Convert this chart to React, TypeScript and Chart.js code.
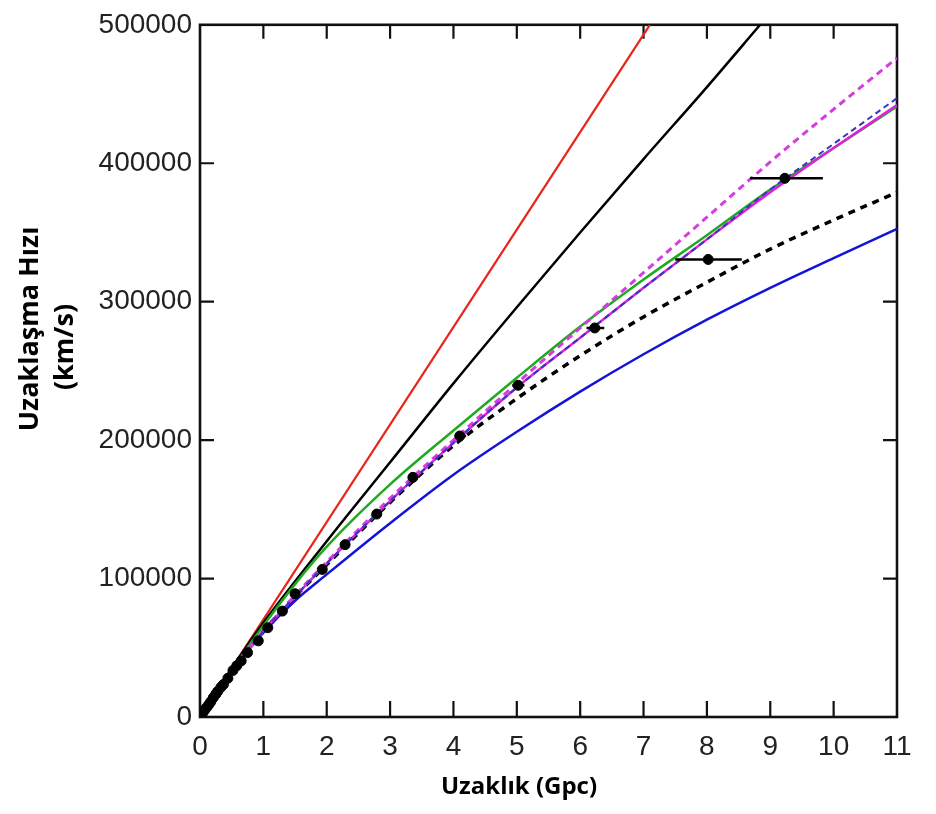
import React, { useEffect, useRef } from "react";
import { Chart, registerables } from "chart.js";

Chart.register(...registerables);

// ---- tick labels ----
const X_TICKS = [0, 1, 2, 3, 4, 5, 6, 7, 8, 9, 10, 11];
const Y_TICKS = [0, 100000, 200000, 300000, 400000, 500000];

// ---- model curves (distance in Gpc, velocity in km/s) ----
const RED_X = [0, 7.1];
const RED_Y = [0, 500000];

const BLACK_X = [0, 0.5, 1, 2, 3, 4, 5, 6, 7, 8, 8.84];
const BLACK_Y = [0, 35000, 68000, 127000, 184000, 241000, 296000, 350000, 403000, 455000, 500000];

const CURVE_X = [0, 0.5, 1, 1.5, 2, 3, 4, 5, 6, 7, 8, 9, 10, 11];
const BLUE_Y = [0, 33000, 61000, 84000, 103000, 140000, 175000, 206000, 235000, 262000, 287000, 310000, 331500, 352600];
const BLACK_DASH_Y = [0, 33000, 62000, 87000, 110000, 155000, 196000, 230000, 261000, 289000, 314000, 338000, 359000, 379000];
const GREEN_Y = [0, 34000, 66000, 96000, 123000, 168000, 207000, 245000, 282000, 316000, 348000, 381000, 411000, 441000];
const MAGENTA_Y = [0, 33000, 62000, 87000, 111000, 156000, 198000, 238000, 274000, 310000, 345000, 379000, 411000, 442000];
const BLUE_DASH_Y = [0, 33000, 62000, 87000, 111000, 156000, 198000, 238000, 274000, 310000, 345000, 381000, 414000, 447000];
const MAGENTA_DASH_Y = [0, 33000, 62000, 88000, 112000, 158000, 200000, 241000, 281000, 321000, 361000, 401000, 439000, 476000];

// ---- observed data points ----
const OBS_X = [0.02, 0.04, 0.06, 0.08, 0.11, 0.14, 0.17, 0.21, 0.25, 0.28, 0.33, 0.37, 0.44, 0.52, 0.58, 0.65, 0.75, 0.92, 1.07, 1.3, 1.5, 1.93, 2.29, 2.79, 3.36, 4.1, 5.02, 6.23, 8.02, 9.23];
const OBS_Y = [1500, 2800, 4200, 5500, 7200, 9000, 11000, 14000, 16500, 18500, 21500, 23500, 28000, 33600, 37000, 40500, 46500, 55000, 64500, 76500, 89000, 106600, 124500, 146600, 173100, 203000, 239600, 281000, 330500, 389100];

// ---- horizontal error bars ----
const ERR_Y = [389100, 330500, 281000, 239600, 203000];
const ERR_LO = [8.68, 7.5, 6.1, 4.93, 4.02];
const ERR_HI = [9.83, 8.55, 6.38, 5.12, 4.2];

const X_TITLE = "Uzaklık (Gpc)";
const Y_TITLE = ["Uzaklaşma Hızı", "(km/s)"];

const pts = (xs: number[], ys: number[]) => xs.map((x, i) => ({ x, y: ys[i] }));

const lineDs = (label: string, xs: number[], ys: number[], color: string, width: number, dash: number[] = []) => ({
  type: "line" as const,
  label,
  data: pts(xs, ys),
  borderColor: color,
  backgroundColor: color,
  borderWidth: width,
  borderDash: dash,
  pointRadius: 0,
  showLine: true,
  fill: false,
  cubicInterpolationMode: "monotone" as const,
});

const X_TITLE_FONT = 'bold 24px "Open Sans", "Noto Sans", sans-serif';
const Y_TITLE_FONT = 'bold 27px "Open Sans", "Noto Sans", sans-serif';

const frameAndTicks = {
  id: "frameAndTicks",
  beforeDatasetsDraw(chart: any) {
    const { ctx, chartArea } = chart;
    const { left, right, top, bottom } = chartArea;
    const xs = chart.scales.x;
    const ys = chart.scales.y;
    ctx.save();
    ctx.strokeStyle = "#111";
    ctx.lineWidth = 2.6;
    ctx.strokeRect(left, top, right - left, bottom - top);
    ctx.lineWidth = 2.2;
    ctx.beginPath();
    X_TICKS.forEach((v) => {
      const px = xs.getPixelForValue(v);
      if (v === 0 || v === 11) return;
      ctx.moveTo(px, bottom);
      ctx.lineTo(px, bottom - 16);
      ctx.moveTo(px, top);
      ctx.lineTo(px, top + 14);
    });
    Y_TICKS.forEach((v) => {
      const py = ys.getPixelForValue(v);
      if (v === 0 || v === 500000) return;
      ctx.moveTo(left, py);
      ctx.lineTo(left + 14, py);
      ctx.moveTo(right, py);
      ctx.lineTo(right - 14, py);
    });
    ctx.stroke();
    ctx.restore();
  },
  afterDraw(chart: any) {
    const { ctx } = chart;
    ctx.save();
    ctx.fillStyle = "#000";
    ctx.textAlign = "center";
    ctx.textBaseline = "middle";
    ctx.font = X_TITLE_FONT;
    ctx.fillText(X_TITLE, 519, 787);
    ctx.font = Y_TITLE_FONT;
    ctx.save();
    ctx.translate(30, 329);
    ctx.rotate(-Math.PI / 2);
    ctx.fillText(Y_TITLE[0], 0, 0);
    ctx.restore();
    ctx.save();
    ctx.translate(65, 347);
    ctx.rotate(-Math.PI / 2);
    ctx.fillText(Y_TITLE[1], 0, 0);
    ctx.restore();
    ctx.restore();
  },
};

export default function App() {
  const ref = useRef<HTMLCanvasElement>(null);

  useEffect(() => {
    if (!ref.current) return;
    const errDs = ERR_Y.map((y, i) => ({
      type: "line" as const,
      label: "err" + i,
      data: [
        { x: ERR_LO[i], y },
        { x: ERR_HI[i], y },
      ],
      borderColor: "#000",
      borderWidth: 2.5,
      pointRadius: 0,
      showLine: true,
      fill: false,
    }));

    const chart = new Chart(ref.current, {
      type: "scatter",
      data: {
        datasets: [
          {
            type: "scatter" as const,
            label: "Gözlem",
            data: pts(OBS_X, OBS_Y),
            backgroundColor: "#000",
            borderColor: "#000",
            pointRadius: 5,
            pointHoverRadius: 5,
          },
          ...errDs,
          lineDs("mavi kesikli", CURVE_X, BLUE_DASH_Y, "#3535c0", 2, [6, 4]),
          lineDs("mor kesikli", CURVE_X, MAGENTA_DASH_Y, "#d43ee0", 3, [7, 5]),
          lineDs("mor", CURVE_X, MAGENTA_Y, "#e020e0", 2.5),
          lineDs("yeşil", CURVE_X, GREEN_Y, "#1faa1f", 2.5),
          lineDs("siyah kesikli", CURVE_X, BLACK_DASH_Y, "#000", 3.5, [7, 6]),
          lineDs("mavi", CURVE_X, BLUE_Y, "#1414d8", 2.5),
          lineDs("siyah", BLACK_X, BLACK_Y, "#000", 2.5),
          lineDs("kırmızı", RED_X, RED_Y, "#e8231c", 2.2),
        ] as any,
      },
      options: {
        animation: false,
        responsive: false,
        events: [],
        layout: { padding: { left: 0, top: 18, right: 39, bottom: 0 } },
        plugins: {
          legend: { display: false },
          tooltip: { enabled: false },
        },
        scales: {
          x: {
            type: "linear",
            min: 0,
            max: 11,
            afterBuildTicks: (s: any) => {
              s.ticks = X_TICKS.map((value) => ({ value }));
            },
            afterFit: (s: any) => {
              s.height = 97;
            },
            grid: { display: false, drawTicks: false },
            border: { display: false },
            ticks: {
              padding: 13,
              color: "#222",
              font: { family: '"Liberation Sans Narrow", "Liberation Sans", Arial, sans-serif', size: 28 },
              maxRotation: 0,
              autoSkip: false,
            },
            title: { display: false },
          },
          y: {
            type: "linear",
            min: 0,
            max: 500000,
            afterBuildTicks: (s: any) => {
              s.ticks = Y_TICKS.map((value) => ({ value }));
            },
            afterFit: (s: any) => {
              s.width = 200;
            },
            grid: { display: false, drawTicks: false },
            border: { display: false },
            ticks: {
              padding: 8,
              color: "#222",
              font: { family: '"Liberation Sans", Arial, sans-serif', size: 28 },
              callback: (v: any) => String(v),
              autoSkip: false,
            },
            title: { display: false },
          },
        },
      },
      plugins: [frameAndTicks],
    });
    return () => chart.destroy();
  }, []);

  return (
    <div style={{ position: "absolute", left: 0, top: 0, width: 936, height: 814, background: "#fff" }}>
      <canvas ref={ref} width={936} height={814} style={{ display: "block" }} />
    </div>
  );
}
